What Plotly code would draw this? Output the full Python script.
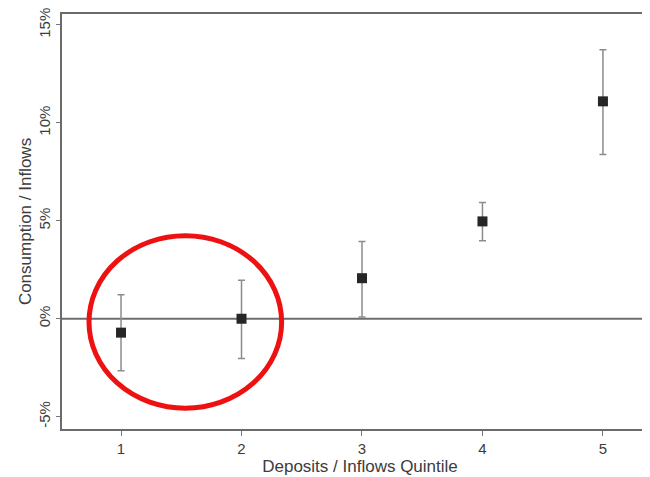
import plotly.graph_objects as go

quintiles = [1, 2, 3, 4, 5]
estimates = [-0.71, 0.0, 2.07, 4.97, 11.1]
upper_ci = [1.22, 1.97, 3.95, 5.93, 13.73]
lower_ci = [-2.66, -2.03, 0.09, 3.98, 8.39]
y_ticks = [-5, 0, 5, 10, 15]
y_tick_labels = ["-5%", "0%", "5%", "10%", "15%"]

err_plus = [u - e for u, e in zip(upper_ci, estimates)]
err_minus = [e - l for e, l in zip(estimates, lower_ci)]

fig = go.Figure()
fig.add_trace(go.Scatter(
    x=quintiles, y=estimates, mode="markers",
    marker=dict(symbol="square", size=10, color="#262626"),
    error_y=dict(type="data", symmetric=False, array=err_plus, arrayminus=err_minus,
                 color="#8c8c8c", thickness=1.5, width=3.5),
    showlegend=False,
))

fig.add_hline(y=0, line=dict(color="#6e6e6e", width=2), layer="below")

fig.add_shape(type="circle", xref="x", yref="y",
              x0=0.734, x1=2.333, y0=-4.57, y1=4.24,
              line=dict(color="#ee1111", width=5))

font_family = "Liberation Sans, Arial, sans-serif"
fig.update_layout(
    width=650, height=477,
    margin=dict(l=54, r=0, t=6, b=56, autoexpand=False),
    paper_bgcolor="white", plot_bgcolor="white",
    font=dict(family=font_family, color="#3c3c3c", size=15),
    xaxis=dict(range=[0.51, 5.457], tickvals=quintiles, ticks="outside", ticklen=5,
               tickcolor="#777777", showline=True, linecolor="#6b6b6b", linewidth=1.5,
               mirror=True, showgrid=False, zeroline=False, automargin=False,
               tickfont=dict(size=15, color="#3c3c3c"), ticklabeloverflow="allow",
               title=dict(text="Deposits / Inflows Quintile", standoff=2,
                          font=dict(size=17, color="#3c3c3c"))),
    yaxis=dict(range=[-5.63, 15.56], tickvals=y_ticks, ticktext=y_tick_labels,
               tickangle=-90, ticks="outside", ticklen=4, tickcolor="#777777",
               showline=True, linecolor="#6b6b6b", linewidth=1.5, mirror=False,
               showgrid=False, zeroline=False, automargin=False,
               tickfont=dict(size=15, color="#3c3c3c"), ticklabeloverflow="allow",
               title=dict(text="Consumption / Inflows", standoff=0,
                          font=dict(size=17, color="#3c3c3c"))),
)

fig.write_html("out.html")
